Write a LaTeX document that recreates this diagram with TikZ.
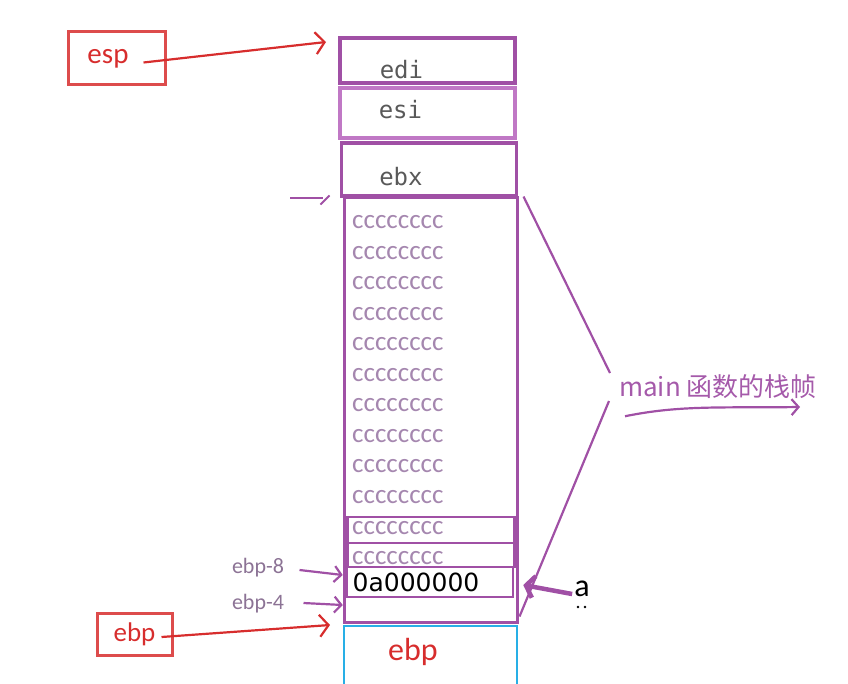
\documentclass[tikz,border=0pt]{standalone}
\usepackage{fontspec}
\setmainfont{Carlito}
\newfontfamily\regfont{DejaVu Sans Mono}
\newfontfamily\valfont{DejaVu Sans}
\newfontfamily\cjkfont{Noto Sans CJK SC}
\usetikzlibrary{arrows.meta,positioning,calc}

\definecolor{framepurple}{RGB}{160,80,165}
\definecolor{lightpurple}{RGB}{200,130,205}
\definecolor{ccolor}{RGB}{165,135,175}
\definecolor{labelpurple}{RGB}{165,90,170}
\definecolor{regred}{RGB}{215,45,45}
\definecolor{cellcyan}{RGB}{40,175,230}

\begin{document}
\begin{tikzpicture}[
    x=1pt, y=-1pt,
    % boxes of the stack
    cell/.style     = {draw=framepurple, line width=3.5pt, inner sep=0pt,
                       minimum width=175pt, minimum height=#1},
    slot/.style     = {draw=framepurple, line width=2.5pt, inner sep=0pt,
                       minimum width=167pt, minimum height=#1},
    regtext/.style  = {font=\regfont\fontsize{24}{24}\selectfont, text=black!65, anchor=west},
    ctext/.style    = {font=\fontsize{27}{27}\selectfont, text=ccolor, anchor=west, inner sep=0pt},
    redbox/.style   = {draw=regred!85!white, line width=3pt, text=regred,
                       inner sep=0pt, font=\fontsize{29}{29}\selectfont},
    offtext/.style  = {font=\fontsize{22}{22}\selectfont, text=ccolor!85!black},
    % connectors
    redarrow/.style = {regred, line width=2.2pt, -{Straight Barb[length=9pt,width=22pt]}},
    parrow/.style   = {framepurple, line width=2.2pt, -{Straight Barb[length=7pt,width=16pt]}},
    bracket/.style  = {framepurple, line width=2.2pt}
  ]
\useasboundingbox (0,0) rectangle (848,683);

% ---------------- saved registers ----------------
\node[cell=45pt]  (edi) at (427.5,60.5) {};
\node[cell=50pt, draw=lightpurple!80!framepurple] (esi) at (427.5,113) {};
\node[cell=53pt]  (ebx) at (429,169.5) {};
\node[regtext] at ($(edi.west)+(38,9)$) {edi};
\node[regtext] at ($(esi.west)+(37,-3)$) {esi};
\node[regtext] at ($(ebx.west)+(36,7)$) {ebx};

% ---------------- locals of main ----------------
\node[draw=framepurple, line width=3pt, minimum width=173pt,
      minimum height=425pt, inner sep=0pt] (frame) at (430.5,409.5) {};
\foreach \i in {0,...,9}
  \node[ctext] (c\i) at (352,222+30.55*\i) {cccccccc};

\node[slot=26pt] (s10) at (431,530) {};
\node[slot=24pt] (s11) at (431,555) {};
\begin{scope}
  \clip (s11.north west) rectangle (s11.south east);
  \node[ctext] (c11) at (352,558) {cccccccc};
\end{scope}
\node[ctext] (c10) at (352,528) {cccccccc};
\node[slot=30pt, minimum width=166pt, fill=white] (val) at (430,582)
  {\valfont\fontsize{25}{25}\selectfont\hspace*{-28pt}0a000000};

% caller's ebp cell
\node[draw=cellcyan, line width=2.5pt, minimum width=173pt,
      minimum height=70pt, inner sep=0pt] (oldebp) at (430.5,661) {};
\node[text=regred, font=\fontsize{32}{32}\selectfont] at (413,652) {ebp};

% ---------------- register labels ----------------
\node[redbox, minimum width=97pt, minimum height=53pt] (esp) at (116.5,57.5) {};
\node[text=regred, font=\fontsize{29}{29}\selectfont] at (108,59) {esp};
\node[redbox, minimum width=75pt, minimum height=42pt,
      font=\fontsize{27}{27}\selectfont] (ebp) at (134.5,634) {ebp};

\coordinate (esptip) at (326,42);
\coordinate (ebptip) at (330,625);
\draw[redarrow] ($(esp.east)+(-23,5)$) -- (esptip);
\draw[redarrow] ($(ebp.east)+(-12,3)$) -- (ebptip);

% ebp offsets
\node[offtext] (off8) at (258,568) {ebp-8};
\node[offtext] (off4) at (258,604) {ebp-4};
\draw[parrow] ($(off8.east)+(12,2)$) -- ($(val.west)+(-3,-7)$);
\draw[parrow] ($(off4.east)+(16,-1)$) -- ($(val.west)+(-3,23)$);

% short mark at the top of the frame
\coordinate (hook) at (290,198);
\draw[framepurple, line width=1.8pt] (hook) -- ++(33,0);
\draw[framepurple, line width=2pt] ($(frame.north west)+(-22,9)$) -- ++(9,-9);

% ---------------- stack frame brace ----------------
\node[anchor=west, text=labelpurple, inner sep=0pt,
      font=\cjkfont\fontsize{26}{26}\selectfont] (main) at (619,387) {main 函数的栈帧};
\draw[bracket] ($(frame.north east)+(5,1)$) -- ($(main.west)+(-9,-14)$);
\draw[bracket] ($(main.west)+(-10,14)$) -- ($(frame.south east)+(1,-7)$);
\coordinate (grow) at (800,407);
\draw[parrow] ($(main.south west)+(6,17)$) .. controls (680,405) and (720,408) .. (grow);

% variable a
\node[text=black, font=\fontsize{32}{32}\selectfont, inner sep=0pt] (a) at (582,589) {a};
\fill (578,607) circle (1.3pt) (585,607) circle (1.3pt);
\draw[framepurple, line width=4.5pt, -{Straight Barb[length=8pt,width=22pt]}]
  ($(a.west)+(-2,5)$) -- ($(val.east)+(9,3)$);

\end{tikzpicture}
\end{document}
